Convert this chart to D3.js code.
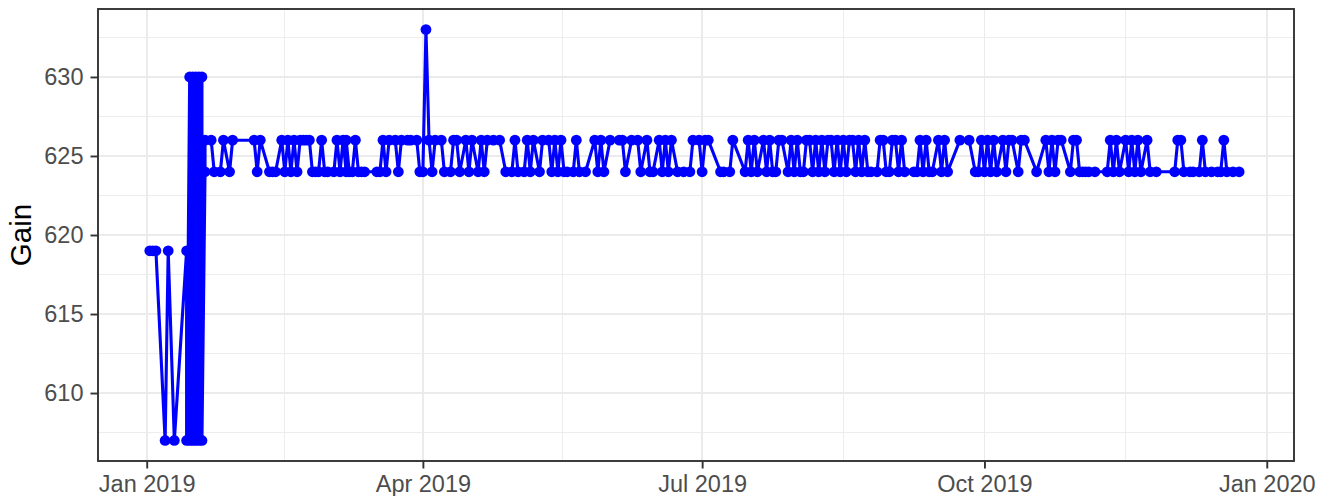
<!DOCTYPE html>
<head>
  <meta charset="utf-8">
  <script src="https://d3js.org/d3.v7.min.js"></script>
  <style>
    body { margin: 0; background: #fff; }
    svg { display: block; font-family: 'Liberation Sans', Arial, sans-serif; }
    .grid line { stroke: #ebebeb; shape-rendering: crispEdges; }
    .grid .minor { stroke-width: 0.9; }
    .grid .major { stroke-width: 1.6; }
    .axis path { display: none; }
    .axis line { stroke: #333333; stroke-width: 1.9; }
    .axis text { fill: #4d4d4d; font-size: 23.5px; }
  </style>
</head>
<body>
<script>
// readings per month of 2019: [day of month, gain]
var gainJan = [[2,619],[3,619],[4,619],[7,607],[8,619],[10,607],[14,619],[14,607],[15,630],[15,607],
  [16,630],[16,607],[17,630],[17,607],[18,630],[18,607],[19,630],[19,607],[20,624],[20,626],
  [22,626],[23,624],[25,624],[26,626],[28,624],[29,626]];
var gainFeb = [[5,626],[6,624],[7,626],[10,624],[11,624],[12,624],[14,626],[15,624],[16,626],[17,624],
  [18,626],[19,624],[20,626],[21,626],[22,626],[23,626],[24,624],[25,624],[26,624],[27,626],[28,624]];
var gainMar = [[1,624],[3,624],[4,626],[5,624],[6,626],[7,624],[7,626],[8,624],[9,624],[10,626],
  [11,624],[12,624],[13,624],[17,624],[18,624],[19,626],[20,624],[21,626],[23,626],[24,624],
  [25,626],[27,626],[28,626],[30,626],[31,624]];
var gainApr = [[1,624],[2,633],[3,626],[4,624],[5,626],[7,626],[8,624],[10,624],[11,626],[12,626],
  [13,624],[15,626],[16,624],[17,626],[19,624],[20,626],[21,624],[22,626],[24,626],[26,626],
  [28,624],[30,624]];
var gainMay = [[1,626],[2,624],[4,624],[5,626],[6,624],[7,626],[9,624],[10,626],[12,626],[13,624],
  [14,626],[15,624],[16,626],[17,624],[18,624],[20,624],[21,626],[22,624],[24,624],[27,626],
  [28,624],[29,626],[30,624]];
var gainJun = [[1,626],[4,626],[5,626],[6,624],[8,626],[10,626],[11,624],[13,626],[14,624],[15,624],
  [17,626],[18,624],[19,626],[20,624],[21,626],[23,624],[25,624],[27,624],[28,626],[30,626]];
var gainJul = [[1,624],[2,626],[3,626],[7,624],[8,624],[10,624],[11,626],[15,624],[16,626],[17,624],
  [18,626],[19,624],[21,626],[22,624],[23,626],[24,624],[25,624],[26,626],[27,626],[29,624],
  [30,626],[31,624]];
var gainAug = [[1,626],[2,624],[3,624],[4,626],[5,626],[6,624],[7,626],[8,624],[9,626],[10,624],
  [11,626],[12,626],[13,624],[14,626],[15,624],[16,626],[17,624],[18,626],[19,626],[20,624],
  [21,626],[22,624],[23,626],[24,624],[25,624],[27,624],[28,626],[29,626],[30,624],[31,624]];
var gainSep = [[1,626],[2,626],[3,624],[4,626],[5,624],[8,624],[9,624],[10,626],[11,624],[12,626],
  [13,624],[14,624],[16,626],[17,624],[18,626],[19,624],[23,626],[26,626],[28,624],[29,624],[30,626]];
var gainOct = [[1,624],[2,626],[3,624],[4,626],[5,624],[7,626],[8,624],[9,626],[10,626],[12,624],
  [13,626],[14,626],[18,624],[21,626],[22,624],[23,626],[24,624],[25,626],[26,626],[29,624],
  [30,626],[31,626]];
var gainNov = [[1,624],[2,624],[3,624],[4,624],[6,624],[10,624],[11,626],[12,624],[13,626],[14,624],
  [16,626],[17,624],[18,626],[19,624],[20,626],[21,624],[23,626],[24,624],[26,624]];
var gainDec = [[2,624],[3,626],[4,626],[5,624],[7,624],[8,624],[10,624],[11,626],[12,624],[14,624],
  [16,624],[17,624],[18,626],[19,624],[21,624],[23,624]];

var yMajor = [610, 615, 620, 625, 630];
var yMinor = [607.5, 612.5, 617.5, 622.5, 627.5, 632.5];
var yTitle = "Gain";

var months = [gainJan, gainFeb, gainMar, gainApr, gainMay, gainJun,
              gainJul, gainAug, gainSep, gainOct, gainNov, gainDec];
var data = [];
months.forEach(function(rows, m) {
  rows.forEach(function(r) { data.push({date: new Date(2019, m, r[0]), gain: r[1]}); });
});

var width = 1317, height = 496;
var margin = {top: 9, right: 23, bottom: 35, left: 98};

var svg = d3.select("body").append("svg")
    .attr("width", width)
    .attr("height", height);

var x = d3.scaleTime()
    .domain([new Date(2018, 11, 16, 3), new Date(2020, 0, 9, 21)])
    .range([margin.left, width - margin.right]);

var yExt = d3.extent(data, function(d) { return d.gain; });
var yPad = (yExt[1] - yExt[0]) * 0.05;
var y = d3.scaleLinear()
    .domain([yExt[0] - yPad, yExt[1] + yPad])
    .range([height - margin.bottom, margin.top]);

var xMajor = x.ticks(d3.timeMonth.every(3));
var xMinor = d3.pairs(xMajor).map(function(p) { return new Date((+p[0] + +p[1]) / 2); });

// grid
var grid = svg.append("g").attr("class", "grid");
grid.selectAll(".ym").data(yMinor).enter().append("line")
    .attr("class", "minor")
    .attr("x1", margin.left).attr("x2", width - margin.right)
    .attr("y1", function(d) { return y(d); }).attr("y2", function(d) { return y(d); });
grid.selectAll(".xm").data(xMinor).enter().append("line")
    .attr("class", "minor")
    .attr("y1", margin.top).attr("y2", height - margin.bottom)
    .attr("x1", function(d) { return x(d); }).attr("x2", function(d) { return x(d); });
grid.selectAll(".yM").data(yMajor).enter().append("line")
    .attr("class", "major")
    .attr("x1", margin.left).attr("x2", width - margin.right)
    .attr("y1", function(d) { return y(d); }).attr("y2", function(d) { return y(d); });
grid.selectAll(".xM").data(xMajor).enter().append("line")
    .attr("class", "major")
    .attr("y1", margin.top).attr("y2", height - margin.bottom)
    .attr("x1", function(d) { return x(d); }).attr("x2", function(d) { return x(d); });

// series
var line = d3.line()
    .x(function(d) { return x(d.date); })
    .y(function(d) { return y(d.gain); });

svg.append("path")
    .datum(data)
    .attr("fill", "none")
    .attr("stroke", "#0000ff")
    .attr("stroke-width", 3.1)
    .attr("stroke-linejoin", "round")
    .attr("d", line);

svg.append("g").selectAll("circle")
    .data(data)
    .enter().append("circle")
    .attr("cx", function(d) { return x(d.date); })
    .attr("cy", function(d) { return y(d.gain); })
    .attr("r", 5.4)
    .attr("fill", "#0000ff");

// panel border
svg.append("rect")
    .attr("x", margin.left).attr("y", margin.top)
    .attr("width", width - margin.left - margin.right)
    .attr("height", height - margin.top - margin.bottom)
    .attr("fill", "none")
    .attr("stroke", "#333333")
    .attr("stroke-width", 1.9);

// axes
svg.append("g")
    .attr("class", "axis")
    .attr("transform", "translate(0," + (height - margin.bottom) + ")")
    .call(d3.axisBottom(x).tickValues(xMajor).tickFormat(d3.timeFormat("%b %Y"))
      .tickSizeInner(7.5).tickSizeOuter(0).tickPadding(7))
    .selectAll("text").attr("dy", "0.71em");

svg.append("g")
    .attr("class", "axis")
    .attr("transform", "translate(" + margin.left + ",0)")
    .call(d3.axisLeft(y).tickValues(yMajor).tickSizeInner(7.5).tickSizeOuter(0).tickPadding(7));

svg.append("text")
    .attr("transform", "translate(31," + ((margin.top + height - margin.bottom) / 2) + ") rotate(-90)")
    .attr("text-anchor", "middle")
    .attr("fill", "#000")
    .style("font-size", "29.5px")
    .text(yTitle);
</script>
</body>
